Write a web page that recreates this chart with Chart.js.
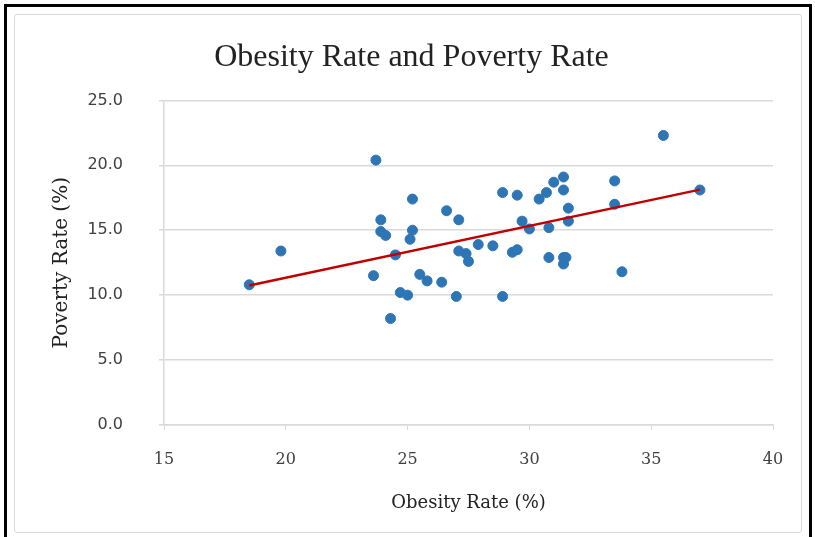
<!DOCTYPE html>
<html>
<head>
<meta charset="utf-8">
<script src="https://cdn.jsdelivr.net/npm/chart.js@4.4.1/dist/chart.umd.min.js"></script>
<style>
    html, body { margin: 0; padding: 0; background: #fff; }
    #wrap { position: relative; width: 815px; height: 537px; overflow: hidden; }
    #outer { position: absolute; left: 4px; top: 4px; width: 808px; height: 540px;
             border: 3px solid #000; box-sizing: border-box; }
    #inner { position: absolute; left: 14px; top: 14px; width: 788px; height: 519px;
             border: 1px solid #d9d9d9; border-radius: 3px; box-sizing: border-box; }
    #chart { position: absolute; left: 0; top: 0; }
</style>
</head>
<body>
<div id="wrap">
    <div id="outer"></div>
    <div id="inner"></div>
    <canvas id="chart" width="815" height="537"></canvas>
</div>
<script>
// Taux d'obésité (%) par état
const obesityRate = [18.5, 19.8, 23.6, 23.7, 23.9, 23.9, 24.1, 24.3, 24.5, 24.7,
    25.0, 25.1, 25.2, 25.2, 25.5, 25.8, 26.4, 26.6, 27.0, 27.1,
    27.1, 27.4, 27.5, 27.9, 28.5, 28.9, 28.9, 29.3, 29.5, 29.5,
    29.7, 30.0, 30.4, 30.7, 30.8, 30.8, 31.0, 31.4, 31.4, 31.4,
    31.4, 31.5, 31.6, 31.6, 33.5, 33.5, 33.8, 35.5, 37.0];
// Taux de pauvreté (%) correspondant
const povertyRate = [10.8, 13.4, 11.5, 20.4, 15.8, 14.9, 14.6, 8.2, 13.1, 10.2,
    10.0, 14.3, 15.0, 17.4, 11.6, 11.1, 11.0, 16.5, 9.9, 15.8,
    13.4, 13.2, 12.6, 13.9, 13.8, 17.9, 9.9, 13.3, 13.5, 17.7,
    15.7, 15.1, 17.4, 17.9, 15.2, 12.9, 18.7, 19.1, 18.1, 12.9,
    12.4, 12.9, 16.7, 15.7, 18.8, 17.0, 11.8, 22.3, 18.1];
// Courbe de tendance (extrémités)
const trendX = [18.5, 37.0];
const trendY = [10.75, 18.13];

const points = obesityRate.map((x, i) => ({ x: x, y: povertyRate[i] }));
const trend = trendX.map((x, i) => ({ x: x, y: trendY[i] }));

const gridColor = '#d9d9d9';
const textColor = '#404040';
const serif = '"Liberation Serif", "DejaVu Serif", serif';

new Chart(document.getElementById('chart'), {
    type: 'scatter',
    data: {
        datasets: [{
            label: 'Tendance',
            type: 'line',
            data: trend,
            borderColor: '#C00000',
            borderWidth: 2.5,
            pointRadius: 0,
            fill: false,
            order: 1
        }, {
            label: 'États',
            data: points,
            backgroundColor: '#2E75B6',
            borderColor: '#2E75B6',
            pointRadius: 5,
            order: 2
        }]
    },
    options: {
        responsive: false,
        animation: false,
        layout: { padding: { left: 50, right: 42, top: 0, bottom: 22 } },
        plugins: {
            legend: { display: false },
            tooltip: { enabled: false },
            title: {
                display: true,
                text: 'Obesity Rate and Poverty Rate',
                color: '#222',
                font: { family: serif, size: 32, weight: 'normal' },
                padding: { top: 38, bottom: 24 }
            }
        },
        scales: {
            x: {
                type: 'linear',
                min: 15,
                max: 40,
                ticks: {
                    stepSize: 5,
                    color: textColor,
                    padding: 20,
                    font: { family: '"DejaVu Serif", serif', size: 16 }
                },
                grid: { drawOnChartArea: false, color: gridColor, tickLength: 5 },
                border: { color: gridColor, width: 1.5 },
                title: {
                    display: true,
                    text: 'Obesity Rate (%)',
                    color: '#222',
                    font: { family: '"DejaVu Serif", serif', size: 18 },
                    padding: { top: 0, bottom: 1 }
                },
                afterFit: function(scale) { scale.height = 90; }
            },
            y: {
                min: 0,
                max: 25,
                ticks: {
                    stepSize: 5,
                    color: textColor,
                    padding: 36,
                    font: { family: '"DejaVu Sans", sans-serif', size: 16 },
                    callback: function(v) { return v.toFixed(1); }
                },
                grid: { color: gridColor, lineWidth: 1.5, tickLength: 5 },
                border: { color: gridColor, width: 1.5 },
                title: {
                    display: true,
                    text: 'Poverty Rate (%)',
                    color: '#222',
                    font: { family: '"DejaVu Serif", serif', size: 20 },
                    padding: { top: 0, bottom: 0 }
                },
                afterFit: function(scale) { scale.width = 114; }
            }
        }
    }
});
</script>
</body>
</html>
